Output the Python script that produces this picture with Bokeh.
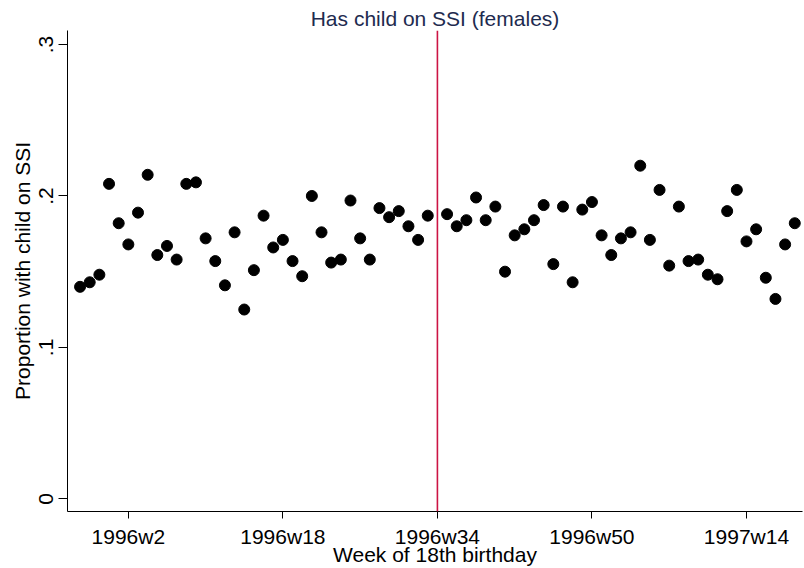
from bokeh.plotting import figure
from bokeh.models import Range1d, FixedTicker, Span
from bokeh.embed import file_html
from bokeh.resources import INLINE

# Week of 18th birthday (Stata weekly dates; 1996w34 has no point)
weeks = [
    "1995w49", "1995w50", "1995w51", "1995w52",
    "1996w1", "1996w2", "1996w3", "1996w4", "1996w5", "1996w6", "1996w7", "1996w8",
    "1996w9", "1996w10", "1996w11", "1996w12", "1996w13", "1996w14", "1996w15", "1996w16",
    "1996w17", "1996w18", "1996w19", "1996w20", "1996w21", "1996w22", "1996w23", "1996w24",
    "1996w25", "1996w26", "1996w27", "1996w28", "1996w29", "1996w30", "1996w31", "1996w32",
    "1996w33",
    "1996w35", "1996w36", "1996w37", "1996w38", "1996w39", "1996w40", "1996w41", "1996w42",
    "1996w43", "1996w44", "1996w45", "1996w46", "1996w47", "1996w48", "1996w49", "1996w50",
    "1996w51", "1996w52",
    "1997w1", "1997w2", "1997w3", "1997w4", "1997w5", "1997w6", "1997w7", "1997w8",
    "1997w9", "1997w10", "1997w11", "1997w12", "1997w13", "1997w14", "1997w15", "1997w16",
    "1997w17", "1997w18", "1997w19",
]

proportion = [
    0.140, 0.143, 0.148, 0.208,
    0.182, 0.168, 0.189, 0.214, 0.161, 0.167, 0.158, 0.208,
    0.209, 0.172, 0.157, 0.141, 0.176, 0.125, 0.151, 0.187,
    0.166, 0.171, 0.157, 0.147, 0.200, 0.176, 0.156, 0.158,
    0.197, 0.172, 0.158, 0.192, 0.186, 0.190, 0.180, 0.171,
    0.187,
    0.188, 0.180, 0.184, 0.199, 0.184, 0.193, 0.150, 0.174,
    0.178, 0.184, 0.194, 0.155, 0.193, 0.143, 0.191, 0.196,
    0.174, 0.161,
    0.172, 0.176, 0.220, 0.171, 0.204, 0.154, 0.193, 0.157,
    0.158, 0.148, 0.145, 0.190, 0.204, 0.170, 0.178, 0.146,
    0.132, 0.168, 0.182,
]

x_tick_labels = ["1996w2", "1996w18", "1996w34", "1996w50", "1997w14"]
y_ticks = [0.0, 0.1, 0.2, 0.3]
y_tick_labels = ["0", ".1", ".2", ".3"]
cutoff_week = "1996w34"


def stata_week(s):
    yr, wk = s.split("w")
    return (int(yr) - 1960) * 52 + int(wk) - 1


x = [stata_week(w) for w in weeks]
x_ticks = [stata_week(w) for w in x_tick_labels]

FONT = "Liberation Sans"

p = figure(
    width=804, height=568,
    x_range=Range1d(1866.7, 1942.8),
    y_range=Range1d(-0.0084, 0.3093),
    output_backend="svg", toolbar_location=None,
    min_border_left=67, min_border_right=2, min_border_top=30, min_border_bottom=57,
)
p.outline_line_color = None
p.xgrid.visible = False
p.ygrid.visible = False
p.background_fill_color = "white"
p.border_fill_color = "white"

p.title.text = "Has child on SSI (females)"
p.title.align = "center"
p.title.text_font = FONT
p.title.text_font_size = "21px"
p.title.text_font_style = "normal"
p.title.text_color = "#1e2b4f"
p.title.standoff = 2

p.add_layout(Span(location=stata_week(cutoff_week), dimension="height",
                  line_color="#cc1444", line_width=1.6))

p.scatter(x, proportion, size=11, color="black")

xa = p.xaxis[0]
xa.ticker = FixedTicker(ticks=x_ticks)
xa.major_label_overrides = {t: l for t, l in zip(x_ticks, x_tick_labels)}
xa.minor_tick_line_color = None
xa.major_tick_out = 7
xa.major_tick_in = 0
xa.major_label_standoff = 6
xa.major_label_text_font = FONT
xa.major_label_text_font_size = "21px"
xa.major_label_text_color = "black"
xa.axis_label = "Week of 18th birthday"
xa.axis_label_text_font = FONT
xa.axis_label_text_font_size = "21px"
xa.axis_label_text_font_style = "normal"
xa.axis_label_text_color = "black"
xa.axis_label_standoff = -8
xa.axis_line_color = "black"
xa.major_tick_line_color = "black"

ya = p.yaxis[0]
ya.ticker = FixedTicker(ticks=y_ticks)
ya.major_label_overrides = {t: l for t, l in zip(y_ticks, y_tick_labels)}
ya.major_label_orientation = "parallel"
ya.minor_tick_line_color = None
ya.major_tick_out = 9
ya.major_tick_in = 0
ya.major_label_standoff = 5
ya.major_label_text_font = FONT
ya.major_label_text_font_size = "21px"
ya.major_label_text_color = "black"
ya.axis_label = "Proportion with child on SSI"
ya.axis_label_text_font = FONT
ya.axis_label_text_font_size = "21px"
ya.axis_label_text_font_style = "normal"
ya.axis_label_text_color = "black"
ya.axis_label_standoff = 3
ya.axis_line_color = "black"
ya.major_tick_line_color = "black"

open("out.html", "w").write(file_html(p, INLINE))
